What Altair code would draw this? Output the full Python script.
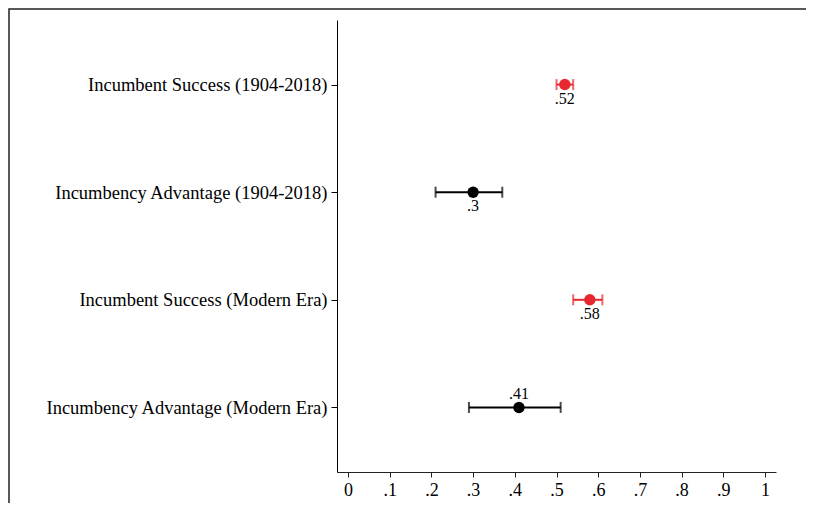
import altair as alt
import pandas as pd

categories = [
    "Incumbent Success (1904-2018)",
    "Incumbency Advantage (1904-2018)",
    "Incumbent Success (Modern Era)",
    "Incumbency Advantage (Modern Era)",
]
estimates = [0.52, 0.30, 0.58, 0.41]
ci_low = [0.50, 0.21, 0.54, 0.29]
ci_high = [0.54, 0.37, 0.61, 0.51]
groups = ["success", "advantage", "success", "advantage"]
labels_above = ["Incumbency Advantage (Modern Era)"]

df = pd.DataFrame({
    "cat": categories,
    "est": estimates,
    "lo": ci_low,
    "hi": ci_high,
    "grp": groups,
})

FONT = "Liberation Serif"
color_scale = alt.Scale(domain=["success", "advantage"], range=["#E8282F", "#000000"])
xscale = alt.Scale(domain=[-0.0264, 1.0264], nice=False, zero=False)
yscale = alt.Scale(domain=categories, type="point", padding=0.6)

label_expr = "datum.value == 0 ? '0' : (datum.value == 1 ? '1' : replace(format(datum.value, '.1f'), '0.', '.'))"

base = alt.Chart(df)

y_enc = alt.Y("cat:N", scale=yscale, sort=categories, title=None,
              axis=alt.Axis(labelFont=FONT, labelFontSize=18.5, labelColor="black",
                            domainColor="black", tickColor="black", tickSize=6,
                            labelPadding=4, labelLimit=400, domainWidth=1))
x_axis = alt.Axis(values=[i / 10 for i in range(11)], labelExpr=label_expr,
                  labelFont=FONT, labelFontSize=18, labelColor="black",
                  domainColor="#222", tickColor="#222", tickSize=5, labelPadding=4,
                  grid=False, title=None, domainWidth=1)

rules = base.mark_rule(strokeWidth=2).encode(
    x=alt.X("lo:Q", scale=xscale, axis=x_axis),
    x2="hi:Q",
    y=y_enc,
    color=alt.Color("grp:N", scale=color_scale, legend=None),
)
caps_lo = base.mark_tick(size=11, thickness=2).encode(
    x=alt.X("lo:Q", scale=xscale), y=alt.Y("cat:N", scale=yscale, sort=categories),
    color=alt.Color("grp:N", scale=color_scale, legend=None))
caps_hi = base.mark_tick(size=11, thickness=2).encode(
    x=alt.X("hi:Q", scale=xscale), y=alt.Y("cat:N", scale=yscale, sort=categories),
    color=alt.Color("grp:N", scale=color_scale, legend=None))
points = base.mark_point(filled=True, opacity=1, size=130).encode(
    x=alt.X("est:Q", scale=xscale), y=alt.Y("cat:N", scale=yscale, sort=categories),
    color=alt.Color("grp:N", scale=color_scale, legend=None))

lab_base = base.transform_calculate(
    lab="replace(format(datum.est, '~g'), '0.', '.')"
)
labels_below = lab_base.transform_filter(
    alt.FieldOneOfPredicate(field="cat", oneOf=[c for c in categories if c not in labels_above])
).mark_text(font=FONT, fontSize=16, color="black", dy=14).encode(
    x=alt.X("est:Q", scale=xscale), y=alt.Y("cat:N", scale=yscale, sort=categories), text="lab:N")
labels_top = lab_base.transform_filter(
    alt.FieldOneOfPredicate(field="cat", oneOf=labels_above)
).mark_text(font=FONT, fontSize=16, color="black", dy=-13).encode(
    x=alt.X("est:Q", scale=xscale), y=alt.Y("cat:N", scale=yscale, sort=categories), text="lab:N")

frame = alt.Chart(alt.Data(values=[{}])).mark_rect(
    fillOpacity=0, stroke="#222", strokeWidth=1.5
).encode(x=alt.value(-328), x2=alt.value(900), y=alt.value(-11), y2=alt.value(900))

chart = alt.layer(frame, rules, caps_lo, caps_hi, points, labels_below, labels_top).properties(
    width=439, height=452,
    padding={"left": 329, "top": 12, "right": 30, "bottom": 31},
    autosize=alt.AutoSizeParams(type="none"),
    background="white",
).configure_view(stroke=None)

chart.save("out.html", embed_options={"renderer": "svg", "actions": False})
